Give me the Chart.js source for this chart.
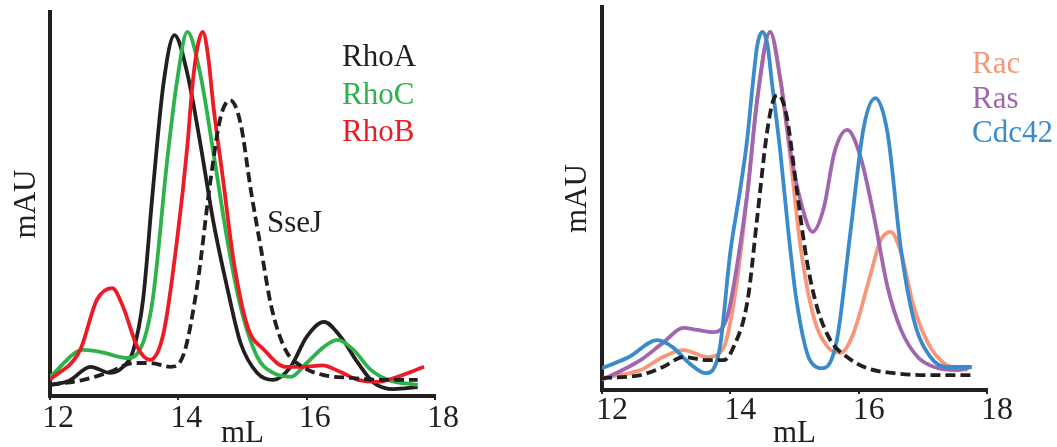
<!DOCTYPE html>
<html>
<head>
<meta charset="utf-8">
<script src="https://cdn.jsdelivr.net/npm/chart.js@4/dist/chart.umd.min.js"></script>
<style>
  html, body { margin: 0; padding: 0; background: #fff; overflow: hidden; }
  #wrap { position: relative; width: 1057px; height: 447px; overflow: hidden; }
  .box { position: absolute; top: 0; }
  #boxRho { left: 0; }
  #boxRas { left: 540px; }
</style>
</head>
<body>
<div id="wrap">
  <div class="box" id="boxRho"><canvas id="chartRho" width="540" height="460"></canvas></div>
  <div class="box" id="boxRas"><canvas id="chartRas" width="517" height="460"></canvas></div>
</div>
<script>
// ---------------- elution profiles (volume in mL, absorbance in % of full scale) ----------------

// panel 1 : Rho family + SseJ
const rhoA_mL  = [12.0, 12.3, 12.63, 12.94, 13.14, 13.3, 13.45, 13.6, 13.77, 13.94, 14.14, 14.34, 14.55, 14.77, 14.97, 15.23, 15.48, 15.75, 16.0, 16.27, 16.53, 16.8, 17.05, 17.36, 17.73]
const rhoA_mAU = [2.9, 4.0, 7.6, 6.0, 7.6, 12, 25, 53, 81.5, 94, 84, 66, 45, 27.6, 13.8, 6, 4.2, 7.6, 15.4, 19.3, 15.4, 8.6, 3.4, 1.8, 2.3]

const rhoC_mL  = [12.0, 12.52, 12.78, 13.2, 13.4, 13.6, 13.83, 13.98, 14.14, 14.34, 14.55, 14.77, 14.97, 15.23, 15.48, 15.75, 16.0, 16.27, 16.48, 16.73, 17.0, 17.27, 17.73]
const rhoC_mAU = [5, 12, 11.5, 9.9, 12, 25, 62, 82, 94.8, 84, 63, 40, 23.2, 10.2, 6, 5, 8.6, 12.8, 14.6, 12, 6.8, 4.2, 2.9]

const rhoB_mL  = [12.0, 12.47, 12.73, 12.97, 13.14, 13.36, 13.56, 13.77, 13.98, 14.14, 14.22, 14.3, 14.38, 14.46, 14.55, 14.7, 14.86, 15.08, 15.34, 15.67, 15.94, 16.25, 16.52, 16.8, 17.11, 17.36, 17.83]
const rhoB_mAU = [4.2, 12, 25, 28.1, 23.2, 12.8, 9.4, 16.4, 40.6, 65, 81, 91, 94.8, 89, 75, 56, 35.4, 18, 12, 7.6, 7.6, 8, 6.3, 4.2, 3.7, 4.7, 7.6]

const sseJ1_mL  = [12.0, 12.52, 12.94, 13.3, 13.56, 13.88, 14.09, 14.3, 14.5, 14.66, 14.81, 14.97, 15.13, 15.3, 15.45, 15.67, 15.94, 16.25, 16.7, 17.2, 17.73]
const sseJ1_mAU = [2.9, 4.2, 6.3, 8.6, 8.6, 7.6, 11.2, 29.4, 56, 72.7, 77, 71, 53.6, 37.2, 23.2, 12, 7.6, 5.5, 4.7, 4.2, 4.2]

// panel 2 : Rac / Ras / Cdc42 + SseJ
const rac_mL  = [12.0, 12.6, 12.95, 13.27, 13.64, 13.9, 14.1, 14.27, 14.42, 14.62, 14.78, 14.94, 15.1, 15.3, 15.52, 15.72, 15.92, 16.19, 16.34, 16.5, 16.66, 16.86, 17.08, 17.33, 17.7]
const rac_mAU = [3.1, 5.2, 8.6, 10.4, 8.6, 11.2, 27.9, 52, 76, 93.5, 81, 60, 36.6, 19, 11.2, 9.7, 14.9, 30.5, 39, 41.3, 35.8, 21.7, 12.3, 7, 5.2]

const ras_mL  = [12.0, 12.6, 12.95, 13.27, 13.48, 13.74, 13.95, 14.1, 14.27, 14.42, 14.62, 14.78, 14.94, 15.1, 15.28, 15.46, 15.62, 15.82, 16.03, 16.24, 16.45, 16.66, 16.92, 17.18, 17.55, 17.76]
const ras_mAU = [2.6, 7.8, 12.3, 16.2, 15.7, 15.1, 19, 32, 52, 76, 93.5, 81, 62, 49, 41.3, 47.8, 61.9, 67.9, 60.8, 45.2, 26.9, 15.7, 8.6, 6, 5.2, 6]

const cdc42_mL  = [12.0, 12.42, 12.86, 13.1, 13.36, 13.62, 13.83, 14.0, 14.15, 14.26, 14.35, 14.42, 14.5, 14.58, 14.65, 14.78, 14.9, 15.03, 15.24, 15.45, 15.66, 15.87, 16.08, 16.26, 16.45, 16.66, 16.86, 17.12, 17.38, 17.76]
const cdc42_mAU = [5.7, 8.6, 13, 11.2, 7, 4.4, 10.4, 36, 52, 65, 80, 90, 93.5, 90, 80, 62, 42, 23.5, 7.8, 5.7, 13, 41, 68.7, 76.2, 67.1, 36.6, 18.3, 8.6, 6, 6]

const sseJ2_mL  = [12.0, 12.6, 12.95, 13.27, 13.64, 13.9, 14.05, 14.27, 14.42, 14.57, 14.67, 14.75, 14.88, 15.03, 15.19, 15.35, 15.56, 15.82, 16.13, 16.55, 17.03, 17.76]
const sseJ2_mAU = [3.1, 3.9, 6, 8.6, 7.8, 7.8, 11.2, 23.5, 45.2, 67.1, 75.7, 77, 71.3, 53, 34, 21.7, 13, 8.6, 5.7, 4.4, 3.9, 3.9]

const X_TICKS = [12, 14, 16, 18]

const INK    = '#231f20'
const FONT   = '"Liberation Serif", "Times New Roman", serif'

//---------------------------------------------------------------------------------------------------

function points(xs, ys) {
  return xs.map((x, i) => ({ x: x, y: ys[i] }))
}

// first dataset in the list ends up on top
function trace(label, xs, ys, color, dashed) {
  return {
    label: label,
    data: points(xs, ys),
    borderColor: color,
    borderWidth: 3.8,
    borderDash: dashed ? [10, 5] : [],
    pointRadius: 0,
    cubicInterpolationMode: 'monotone',
    fill: false
  }
}

// writes each curve's name in its own colour inside the plot area
const curveLabels = {
  id: 'curveLabels',
  afterDatasetsDraw(chart, args, opts) {
    const { ctx, chartArea } = chart
    ctx.save()
    ctx.font = opts.font
    ctx.textBaseline = 'alphabetic'
    ctx.textAlign = 'left'
    opts.items.forEach(it => {
      const ds = chart.data.datasets.find(d => d.label === it.label)
      ctx.fillStyle = ds.borderColor
      ctx.fillText(ds.label, chartArea.left + it.dx, chartArea.top + it.dy)
    })
    ctx.restore()
  }
}

function makeConfig(datasets, p) {
  return {
    type: 'line',
    data: { datasets: datasets },
    plugins: [curveLabels],
    options: {
      responsive: false,
      animation: false,
      layout: { padding: { left: 0, top: p.top, right: p.right, bottom: 0 } },
      plugins: {
        legend: { display: false },
        tooltip: { enabled: false },
        curveLabels: { font: '31px ' + FONT, items: p.labels }
      },
      scales: {
        x: {
          type: 'linear',
          min: 12,
          max: 18,
          afterFit: s => { s.height = p.xHeight },
          afterBuildTicks: s => { s.ticks = X_TICKS.map(v => ({ value: v })) },
          grid: { display: true, drawOnChartArea: false, drawTicks: true, tickLength: 4, color: INK, lineWidth: 2 },
          border: { display: true, color: INK, width: 4 },
          ticks: { color: INK, font: { family: FONT, size: 32, lineHeight: 1 }, padding: p.tickPad, labelOffset: p.labelOffset, maxRotation: 0 },
          title: { display: true, text: 'mL', color: INK, font: { family: FONT, size: 31, lineHeight: 1 }, padding: { top: 0, bottom: 11 } }
        },
        y: {
          min: 0,
          max: 100,
          afterFit: s => { s.width = p.yWidth },
          grid: { display: false },
          border: { display: true, color: INK, width: 4 },
          ticks: { display: false },
          title: { display: true, text: 'mAU', color: INK, font: { family: FONT, size: 31, lineHeight: 1 }, padding: { top: p.yTitlePad, bottom: 0 } }
        }
      }
    }
  }
}

const rhoChart = new Chart(document.getElementById('chartRho'), makeConfig([
  trace('SseJ', sseJ1_mL, sseJ1_mAU, INK, true),
  trace('RhoB', rhoB_mL, rhoB_mAU, '#ed1c24', false),
  trace('RhoC', rhoC_mL, rhoC_mAU, '#2db34a', false),
  trace('RhoA', rhoA_mL, rhoA_mAU, INK, false)
], {
  top: 12, right: 105, xHeight: 64, yWidth: 50, yTitlePad: 11, tickPad: 3, labelOffset: 8,
  labels: [
    { label: 'RhoA', dx: 292, dy: 54 },
    { label: 'RhoC', dx: 292, dy: 92 },
    { label: 'RhoB', dx: 292, dy: 129 },
    { label: 'SseJ', dx: 217, dy: 220 }
  ]
}))

const rasChart = new Chart(document.getElementById('chartRas'), makeConfig([
  trace('SseJ', sseJ2_mL, sseJ2_mAU, INK, true),
  trace('Cdc42', cdc42_mL, cdc42_mAU, '#3b8bcc', false),
  trace('Ras', ras_mL, ras_mAU, '#a066b0', false),
  trace('Rac', rac_mL, rac_mAU, '#f7977a', false)
], {
  top: 7, right: 70, xHeight: 70, yWidth: 62, yTitlePad: 22, tickPad: 1, labelOffset: 10,
  labels: [
    { label: 'Rac', dx: 370, dy: 66 },
    { label: 'Ras', dx: 370, dy: 101 },
    { label: 'Cdc42', dx: 370, dy: 135 }
  ]
}))
</script>
</body>
</html>
